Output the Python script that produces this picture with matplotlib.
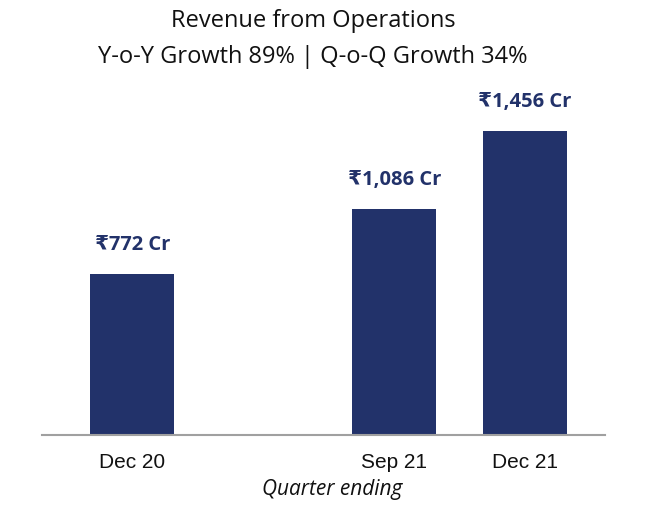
import matplotlib.pyplot as plt

# data
quarters = ['Dec 20', 'Sep 21', 'Dec 21']
positions = [0, 2, 3]
revenue = [772, 1086, 1456]
labels = ['₹772 Cr', '₹1,086 Cr', '₹1,456 Cr']

navy = '#22326a'

fig = plt.figure(figsize=(6.61, 5.28), dpi=100)
ax = fig.add_axes([42 / 661, 93 / 528, 563 / 661, 355 / 528])

ax.bar(positions, revenue, width=0.64, color=navy)

# value labels above bars
for p, v, lab in zip(positions, revenue, labels):
    ax.annotate(lab, (p, v), xytext=(0, 24), textcoords='offset pixels',
                ha='center', va='baseline', color=navy, fontsize=14.5,
                fontweight='bold', family=['Open Sans', 'DejaVu Sans'])

ax.set_xlim(-0.69, 3.61)
ax.set_ylim(0, 1703)
ax.set_xticks(positions)
ax.set_xticklabels(quarters, family='Liberation Sans', fontsize=15, color='#111111')
ax.tick_params(axis='x', length=0, pad=13)
ax.set_yticks([])

for side in ['top', 'right', 'left']:
    ax.spines[side].set_visible(False)
ax.spines['bottom'].set_color('#a0a0a0')
ax.spines['bottom'].set_linewidth(1.5)

# titles
fig.text(313 / 661, 1 - 21 / 528, 'Revenue from Operations', ha='center', va='center',
         fontsize=17, family=['Open Sans', 'DejaVu Sans'], color='#111111')
fig.text(313 / 661, 1 - 57 / 528, 'Y-o-Y Growth 89% | Q-o-Q Growth 34%', ha='center',
         va='center', fontsize=17, family=['Open Sans', 'DejaVu Sans'], color='#111111')

fig.text(332 / 661, 1 - 490 / 528, 'Quarter ending', ha='center', va='center',
         fontsize=15, style='italic', family=['Open Sans', 'DejaVu Sans'], color='#111111')

fig.savefig('out.png', dpi=100)
